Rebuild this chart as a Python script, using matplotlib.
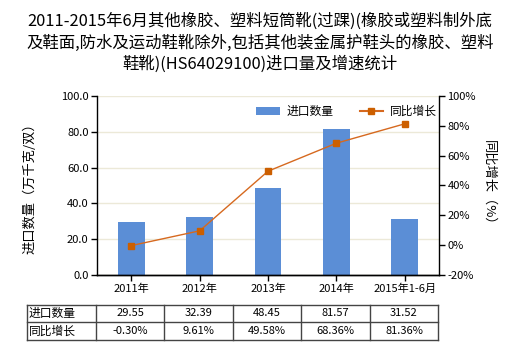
import matplotlib
matplotlib.use("Agg")
import matplotlib.pyplot as plt
from matplotlib.lines import Line2D
from matplotlib.patches import Patch

plt.rcParams['font.family'] = ['Noto Sans CJK SC', 'DejaVu Sans']

categories = ["2011年", "2012年", "2013年", "2014年", "2015年1-6月"]
volumes = [29.55, 32.39, 48.45, 81.57, 31.52]
growth = [-0.30, 9.61, 49.58, 68.36, 81.36]
volume_labels = ["29.55", "32.39", "48.45", "81.57", "31.52"]
growth_labels = ["-0.30%", "9.61%", "49.58%", "68.36%", "81.36%"]
row_names = ["进口数量", "同比增长"]
title = ("2011-2015年6月其他橡胶、塑料短筒靴(过踝)(橡胶或塑料制外底\n"
         "及鞋面,防水及运动鞋靴除外,包括其他装金属护鞋头的橡胶、塑料\n"
         "鞋靴)(HS64029100)进口量及增速统计")

W, H = 520, 350
fig = plt.figure(figsize=(W / 100, H / 100), dpi=100)
fig.patch.set_facecolor("white")

def fx(px):
    return px / W

def fy(py):
    return 1 - py / H

ax_l, ax_r, ax_t, ax_b = 97, 439, 96, 275
ax = fig.add_axes([fx(ax_l), fy(ax_b), fx(ax_r - ax_l), (ax_b - ax_t) / H])
ax2 = ax.twinx()

bar_color = "#5b8ed6"
line_color = "#d6691f"
marker_color = "#cc5f00"
x = list(range(len(categories)))

ax.bar(x, volumes, width=0.39, color=bar_color, zorder=2)
ax.set_xlim(-0.5, len(categories) - 0.5)
ax.set_ylim(0, 100)
ax.set_yticks([0, 20, 40, 60, 80, 100])
ax.set_yticklabels([f"{v:.1f}" for v in [0, 20, 40, 60, 80, 100]])
ax.yaxis.grid(True, color="#ece9d8", linewidth=1, zorder=0)
ax.set_axisbelow(True)
ax.set_xticks(x)
ax.set_xticklabels(categories)

ax2.plot(x, growth, color=line_color, linewidth=1, marker="s", markersize=4,
         markerfacecolor=marker_color, markeredgecolor=marker_color, zorder=3)
ax2.set_ylim(-20, 100)
ax2.set_yticks([-20, 0, 20, 40, 60, 80, 100])
ax2.set_yticklabels([f"{v}%" for v in [-20, 0, 20, 40, 60, 80, 100]])

for a in (ax, ax2):
    a.spines["top"].set_visible(False)
    for s in ("left", "right", "bottom"):
        a.spines[s].set_color("black")
        a.spines[s].set_linewidth(1)
    a.tick_params(labelsize=8, length=4, width=1, color="black", pad=2)
ax2.spines["left"].set_visible(False)
ax.spines["right"].set_visible(False)

ax.set_ylabel("进口数量（万千克/双）", fontsize=9.5, labelpad=18)
ax2.set_ylabel("同比增长（%）", fontsize=9.5, rotation=-90, labelpad=14)

handles = [Patch(facecolor=bar_color, edgecolor="none"),
           Line2D([0], [0], color=line_color, lw=1.5, marker="s", markersize=4,
                  markerfacecolor=marker_color, markeredgecolor=marker_color)]
ax.legend(handles, ["进口数量", "同比增长"], loc="upper center",
          bbox_to_anchor=(0.73, 1.01), ncol=2, frameon=False, fontsize=8.5,
          handlelength=2.0, columnspacing=2.2, handletextpad=0.6)

fig.text(0.5, fy(43), title, ha="center", va="center", fontsize=11.8,
         linespacing=1.32)

# data table under the chart
tx = [27, 96, 164, 233, 301, 370, 438]
ty = [305, 322, 340]
for yy in ty:
    fig.add_artist(Line2D([fx(tx[0]), fx(tx[-1])], [fy(yy), fy(yy)],
                          color="#444444", lw=1))
for xx in tx:
    fig.add_artist(Line2D([fx(xx), fx(xx)], [fy(ty[0]), fy(ty[-1])],
                          color="#444444", lw=1))
rows = [volume_labels, growth_labels]
for r, (name, vals) in enumerate(zip(row_names, rows)):
    yc = (ty[r] + ty[r + 1]) / 2
    fig.text(fx(tx[0] + 2), fy(yc), name, ha="left", va="center", fontsize=8.5)
    for c, v in enumerate(vals):
        xc = (tx[c + 1] + tx[c + 2]) / 2
        fig.text(fx(xc), fy(yc), v, ha="center", va="center", fontsize=8)

fig.savefig("out.png", dpi=100)
